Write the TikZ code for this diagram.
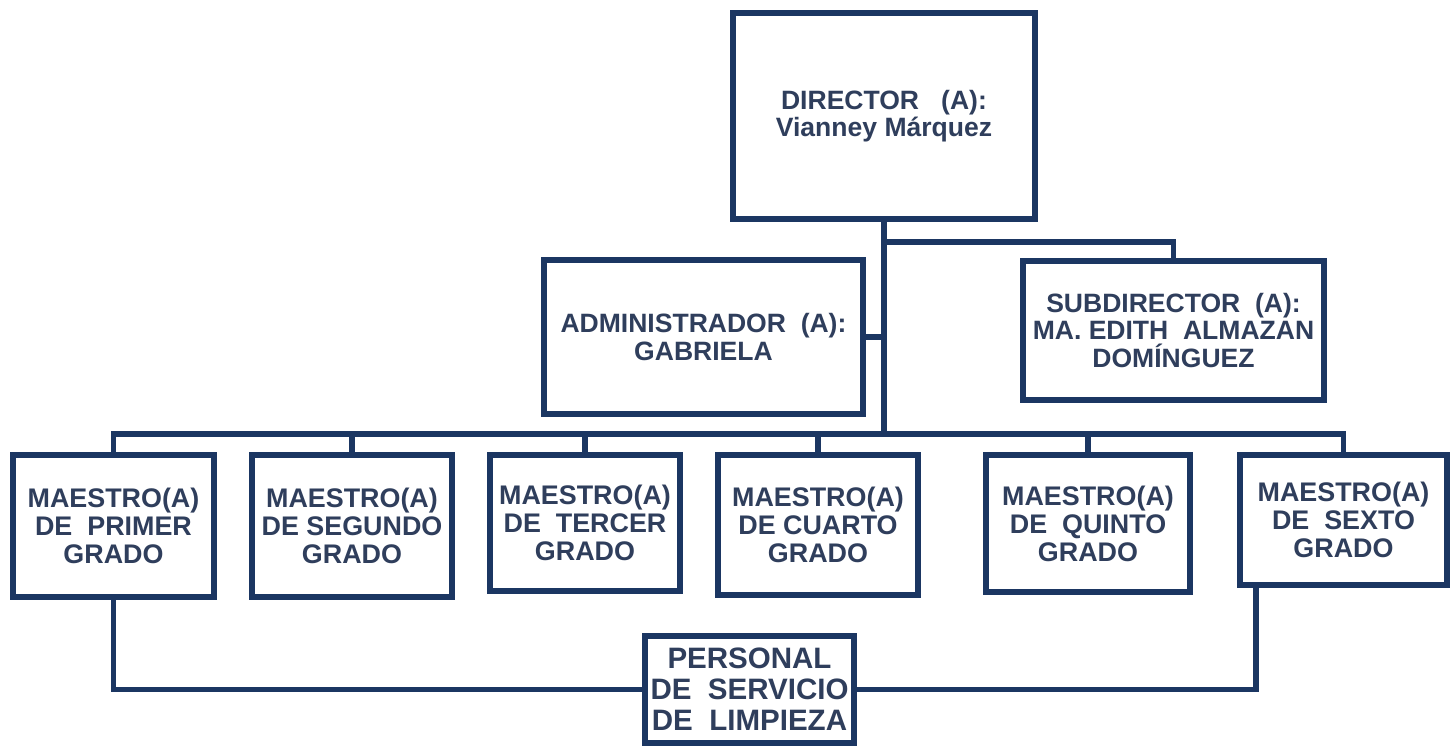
\documentclass[tikz,border=0pt]{standalone}
\usepackage{fontspec}
\setmainfont{Liberation Sans}
\definecolor{boxblue}{RGB}{27,54,98}
\definecolor{txtblue}{RGB}{47,62,92}
\newlength\px
\setlength\px{0.02cm}
\begin{document}
\begin{tikzpicture}[x=1\px, y=-1\px]
\tikzstyle{box} = [rectangle, draw=boxblue, line width=3.3pt, fill=white, text=txtblue, align=center, inner sep=0pt, font=\bfseries\fontsize{15.1}{15.7}\selectfont]
\tikzstyle{teacher} = [box, font=\bfseries\fontsize{15.3}{15.9}\selectfont]
\tikzstyle{link} = [draw=boxblue, line width=3pt]
\useasboundingbox (0,0) rectangle (1454,749);
% top of the chart
\node (dir)[box, minimum width=302\px, minimum height=206\px] at (884,116) {DIRECTOR\ \ \ (A):\\Vianney Márquez};
\node (adm)[box, minimum width=319\px, minimum height=154\px] at (703.5,337) {ADMINISTRADOR\ \ (A):\\GABRIELA};
\node (sub)[box, minimum width=301\px, minimum height=139\px] at (1173.5,330.5) {SUBDIRECTOR\ \ (A):\\MA. EDITH\ \ ALMAZAN\\DOMÍNGUEZ};
% teachers
\node (t1)[teacher, minimum width=201\px, minimum height=142\px] at (113.5,526) {MAESTRO(A)\\DE\ \ PRIMER\\GRADO};
\node (t2)[teacher, minimum width=200\px, minimum height=142\px] at (352,526) {MAESTRO(A)\\DE SEGUNDO\\GRADO};
\node (t3)[teacher, minimum width=190\px, minimum height=136\px] at (585,523) {MAESTRO(A)\\DE\ \ TERCER\\GRADO};
\node (t4)[teacher, minimum width=200\px, minimum height=140\px] at (818,525) {MAESTRO(A)\\DE CUARTO\\GRADO};
\node (t5)[teacher, minimum width=204\px, minimum height=137\px] at (1088,523.5) {MAESTRO(A)\\DE\ \ QUINTO\\GRADO};
\node (t6)[teacher, minimum width=207\px, minimum height=130\px] at (1343.5,520) {MAESTRO(A)\\DE\ \ SEXTO\\GRADO};
\node (per)[box, minimum width=209\px, minimum height=107\px, font=\bfseries\fontsize{16.8}{17.6}\selectfont] at (749.5,689.5) {PERSONAL\\DE\ \ SERVICIO\\DE\ \ LIMPIEZA};
\coordinate (bar) at (884,434);
\coordinate (sj) at (884,242);
\draw [link] (dir.south) -- (bar);
\draw [link] (adm.east) -- (adm.east -| dir.south);
\draw [link] (sj) -| (sub.north);
\draw [link] (t1.north) |- (bar) -| (t6.north);
\foreach \t in {t2,t3,t4,t5}
  \draw [link] (\t.north) -- (\t.north |- bar);
\draw [link] (t1.south) |- (per.west);
\draw [link] (per.east) -| ([xshift=19\px]t6.south west);
\end{tikzpicture}
\end{document}
